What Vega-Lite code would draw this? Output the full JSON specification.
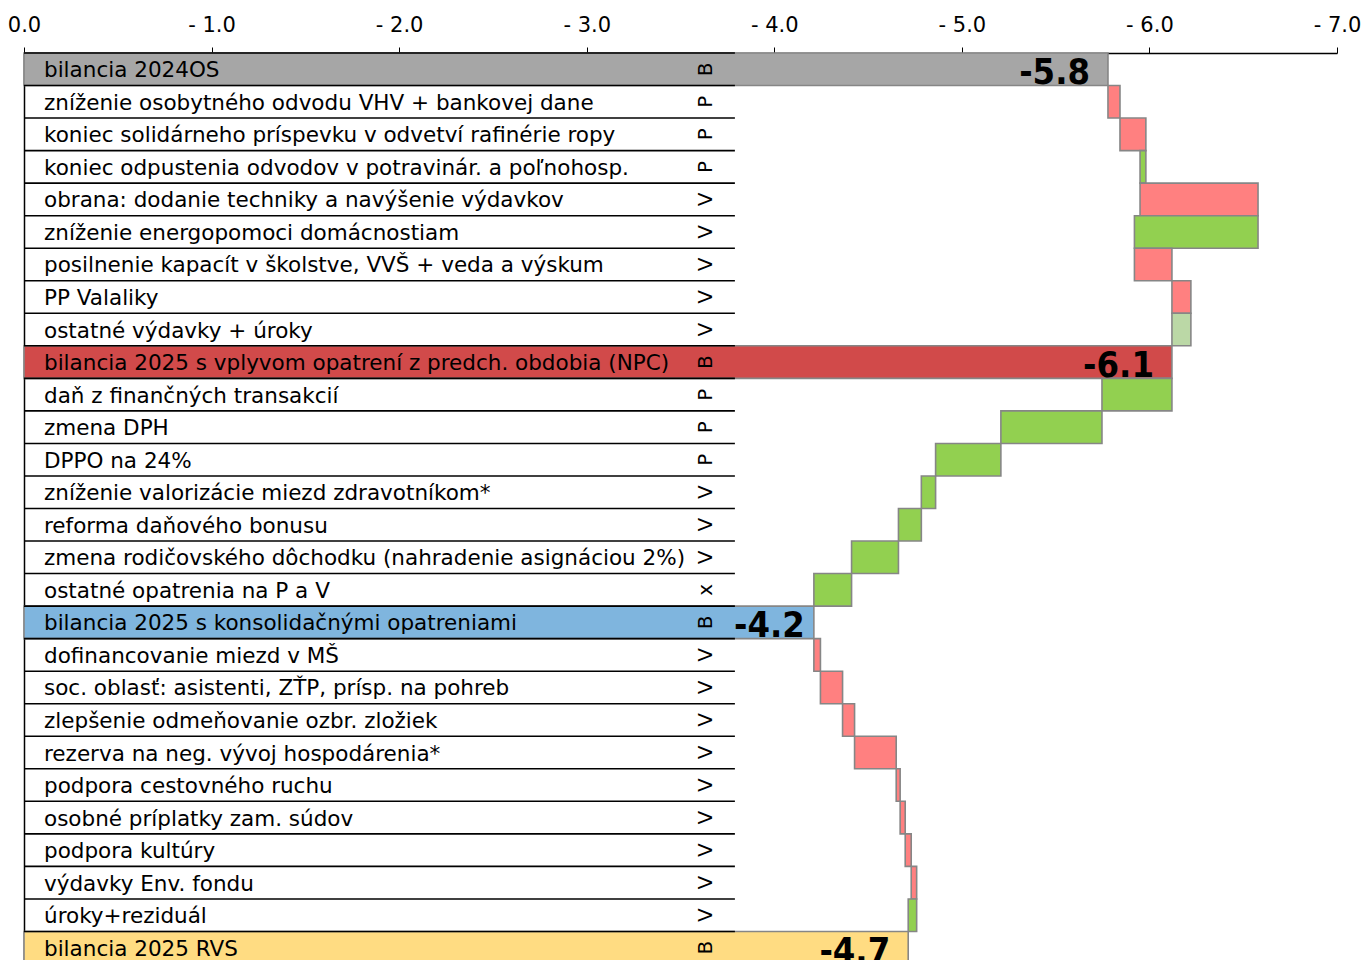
{
  "$schema": "https://vega.github.io/schema/vega-lite/v6.json",
  "autosize": {"type": "none"},
  "padding": {"left": 24, "top": 53, "right": 27, "bottom": 0},
  "width": 1313,
  "height": 911,
  "background": "white",
  "config": {"view": {"stroke": null}},
  "data": {"values": [
    {"item": "bilancia 2024OS", "cat": "B", "start": 0, "end": -5.779, "type": "B1", "label": "-5.8"},
    {"item": "zníženie osobytného odvodu VHV + bankovej dane", "cat": "P", "start": -5.779, "end": -5.843, "type": "up"},
    {"item": "koniec solidárneho príspevku v odvetví rafinérie ropy", "cat": "P", "start": -5.843, "end": -5.981, "type": "up"},
    {"item": "koniec odpustenia odvodov v potravinár. a poľnohosp.", "cat": "P", "start": -5.981, "end": -5.950, "type": "down"},
    {"item": "obrana: dodanie techniky a navýšenie výdavkov", "cat": "V", "start": -5.950, "end": -6.579, "type": "up"},
    {"item": "zníženie energopomoci domácnostiam", "cat": "V", "start": -6.579, "end": -5.920, "type": "down"},
    {"item": "posilnenie kapacít v školstve, VVŠ + veda a výskum", "cat": "V", "start": -5.920, "end": -6.120, "type": "up"},
    {"item": "PP Valaliky", "cat": "V", "start": -6.120, "end": -6.221, "type": "up"},
    {"item": "ostatné výdavky + úroky", "cat": "V", "start": -6.221, "end": -6.120, "type": "downlight"},
    {"item": "bilancia 2025 s vplyvom opatrení z predch. obdobia (NPC)", "cat": "B", "start": 0, "end": -6.120, "type": "B2", "label": "-6.1"},
    {"item": "daň z finančných transakcií", "cat": "P", "start": -6.120, "end": -5.747, "type": "down"},
    {"item": "zmena DPH", "cat": "P", "start": -5.747, "end": -5.208, "type": "down"},
    {"item": "DPPO na 24%", "cat": "P", "start": -5.208, "end": -4.860, "type": "down"},
    {"item": "zníženie valorizácie miezd zdravotníkom*", "cat": "V", "start": -4.860, "end": -4.784, "type": "down"},
    {"item": "reforma daňového bonusu", "cat": "V", "start": -4.784, "end": -4.662, "type": "down"},
    {"item": "zmena rodičovského dôchodku (nahradenie asignáciou 2%)", "cat": "V", "start": -4.662, "end": -4.412, "type": "down"},
    {"item": "ostatné opatrenia na P a V", "cat": "x", "start": -4.412, "end": -4.211, "type": "down"},
    {"item": "bilancia 2025 s konsolidačnými opatreniami", "cat": "B", "start": 0, "end": -4.211, "type": "B3", "label": "-4.2"},
    {"item": "dofinancovanie miezd v MŠ", "cat": "V", "start": -4.211, "end": -4.246, "type": "up"},
    {"item": "soc. oblasť: asistenti, ZŤP, prísp. na pohreb", "cat": "V", "start": -4.246, "end": -4.364, "type": "up"},
    {"item": "zlepšenie odmeňovanie ozbr. zložiek", "cat": "V", "start": -4.364, "end": -4.428, "type": "up"},
    {"item": "rezerva na neg. vývoj hospodárenia*", "cat": "V", "start": -4.428, "end": -4.650, "type": "up"},
    {"item": "podpora cestovného ruchu", "cat": "V", "start": -4.650, "end": -4.671, "type": "up"},
    {"item": "osobné príplatky zam. súdov", "cat": "V", "start": -4.671, "end": -4.698, "type": "up"},
    {"item": "podpora kultúry", "cat": "V", "start": -4.698, "end": -4.730, "type": "up"},
    {"item": "výdavky Env. fondu", "cat": "V", "start": -4.730, "end": -4.759, "type": "up"},
    {"item": "úroky+reziduál", "cat": "V", "start": -4.759, "end": -4.714, "type": "down"},
    {"item": "bilancia 2025 RVS", "cat": "B", "start": 0, "end": -4.714, "type": "B4", "label": "-4.7"}
  ]},
  "encoding": {
    "y": {"field": "item", "type": "nominal", "sort": null,
          "scale": {"paddingInner": 0, "paddingOuter": 0},
          "axis": {"labels": false, "ticks": false, "title": null, "domainColor": "black", "domainWidth": 1.5}}
  },
  "layer": [
    {
      "mark": {"type": "bar", "stroke": "#868686", "strokeWidth": 1.6},
      "encoding": {
        "x": {"field": "start", "type": "quantitative",
              "scale": {"domain": [0, -7], "nice": false, "zero": false},
              "axis": {"orient": "top", "values": [0, -1, -2, -3, -4, -5, -6, -7],
                       "labelExpr": "datum.value == 0 ? '0.0' : '- ' + format(-datum.value, '.1f')",
                       "title": null, "grid": false, "tickSize": 6, "tickColor": "black", "tickWidth": 1,
                       "domainColor": "black", "domainWidth": 1.5, "labelFont": "DejaVu Sans",
                       "labelFontSize": 21, "labelColor": "black", "labelPadding": 12,
                       "labelOverlap": false, "labelFlush": false, "labelBound": false}},
        "x2": {"field": "end"},
        "fill": {"field": "type", "type": "nominal", "legend": null,
                 "scale": {"domain": ["B1", "B2", "B3", "B4", "up", "down", "downlight"],
                           "range": ["#a6a6a6", "#d14a4a", "#7fb5de", "#ffdc82", "#ff8080", "#92d050", "#bbd8a6"]}}
      }
    },
    {
      "mark": {"type": "rule", "color": "black", "strokeWidth": 1.6},
      "encoding": {
        "y": {"field": "item", "type": "nominal", "sort": null, "bandPosition": 0},
        "x": {"datum": 0},
        "x2": {"datum": -3.79}
      }
    },
    {
      "mark": {"type": "text", "align": "left", "baseline": "middle", "dx": 20, "dy": 2, "font": "DejaVu Sans", "fontSize": 21.5, "color": "black"},
      "encoding": {
        "x": {"datum": 0},
        "text": {"field": "item"}
      }
    },
    {
      "mark": {"type": "text", "align": "center", "baseline": "middle", "angle": 270, "font": "DejaVu Sans", "fontSize": 20, "color": "black"},
      "encoding": {
        "x": {"datum": -3.637},
        "text": {"field": "cat"}
      }
    },
    {
      "transform": [{"filter": "datum.label != null && datum.type != 'B3'"}],
      "mark": {"type": "text", "align": "right", "baseline": "middle", "dx": -18, "dy": 4, "font": "DejaVu Sans Condensed", "fontWeight": "bold", "fontSize": 36, "color": "black"},
      "encoding": {
        "x": {"field": "end", "type": "quantitative"},
        "text": {"field": "label"}
      }
    },
    {
      "transform": [{"filter": "datum.type == 'B3'"}],
      "mark": {"type": "text", "align": "right", "baseline": "middle", "dx": -9, "dy": 4, "font": "DejaVu Sans Condensed", "fontWeight": "bold", "fontSize": 36, "color": "black"},
      "encoding": {
        "x": {"field": "end", "type": "quantitative"},
        "text": {"field": "label"}
      }
    }
  ]
}
